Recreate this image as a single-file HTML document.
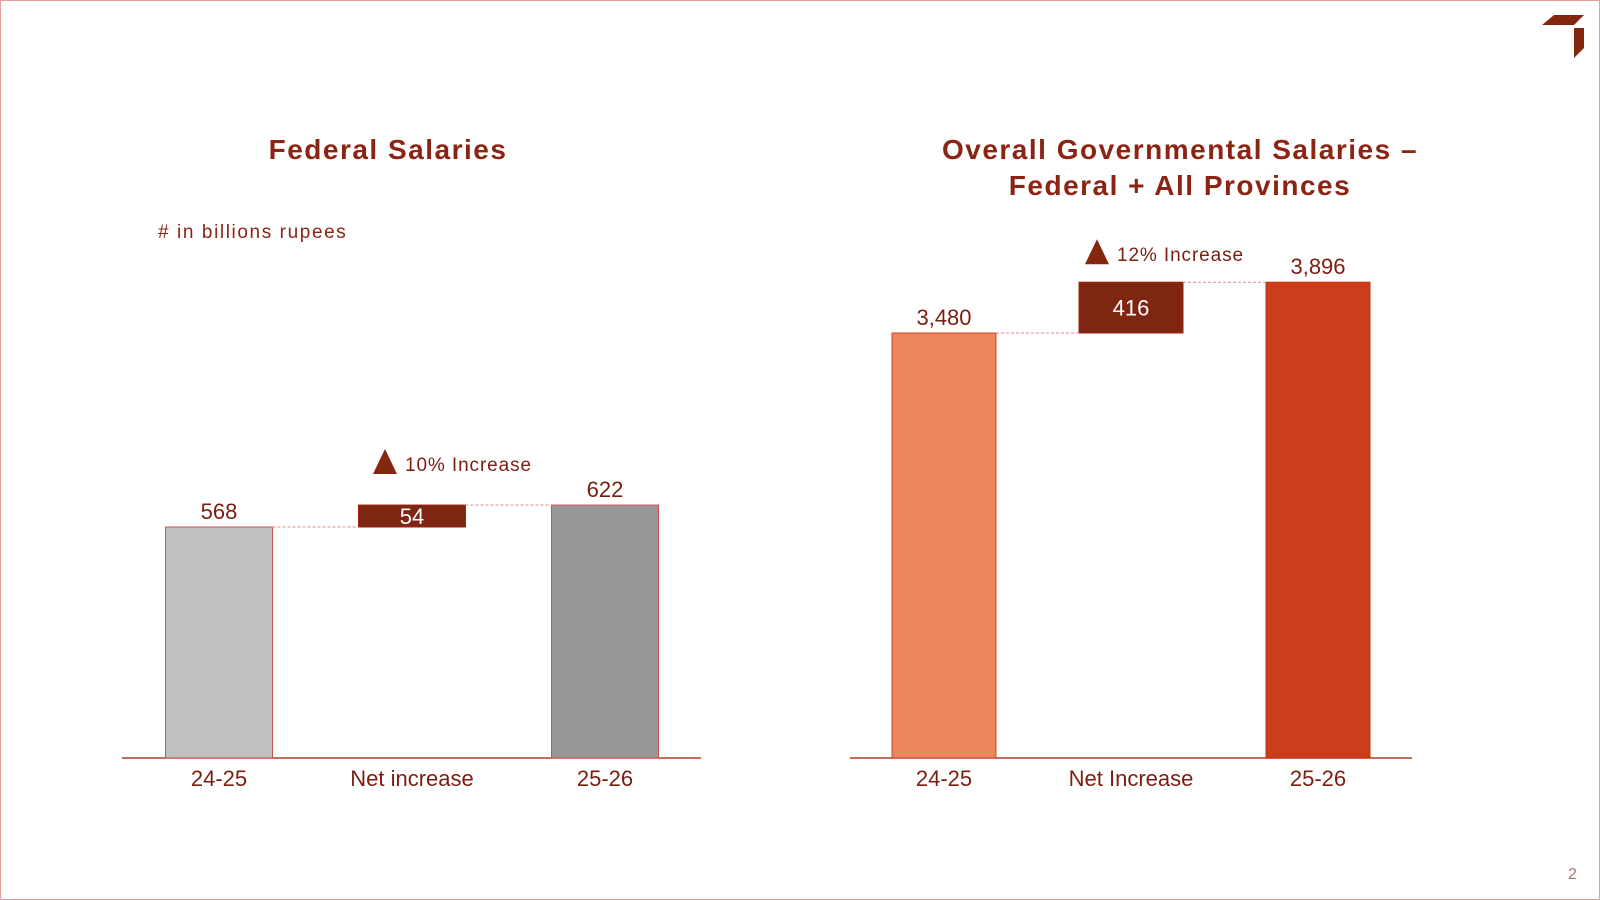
<!DOCTYPE html>
<html><head><meta charset="utf-8"><style>
html,body{margin:0;padding:0;background:#fff}
svg{display:block}
text{font-family:"Liberation Sans",sans-serif}
</style></head><body>
<svg id="s" width="1600" height="900" viewBox="0 0 1600 900">
<rect x="0.5" y="0.5" width="1599" height="899" fill="#fff" stroke="#e0a0a0"/>
<g>
<polygon points="1554,15 1584,15 1574,25 1542,25" fill="#84270f"/>
<polygon points="1574,28 1584,28 1584,48 1574,58" fill="#84270f"/>
</g>
<text x="388" y="159" text-anchor="middle" font-size="28" font-weight="bold" fill="#8b2413" letter-spacing="1.5">Federal Salaries</text>
<text x="158" y="238" font-size="19" fill="#8b2413" letter-spacing="1.6"># in billions rupees</text>
<text x="1180" y="159" text-anchor="middle" font-size="28" font-weight="bold" fill="#8b2413" letter-spacing="1.5">Overall Governmental Salaries –</text>
<text x="1180" y="195" text-anchor="middle" font-size="28" font-weight="bold" fill="#8b2413" letter-spacing="1.5">Federal + All Provinces</text>
<g id="left"></g><g id="right"></g>
</svg>
<script>
const leftCategories=["24-25","Net increase","25-26"];
const leftValues=[568,54,622];
const leftLabels=["568","54","622"];
const leftPct="10% Increase";
const rightCategories=["24-25","Net Increase","25-26"];
const rightValues=[3480,416,3896];
const rightLabels=["3,480","416","3,896"];
const rightPct="12% Increase";
const NS="http://www.w3.org/2000/svg";
function mk(p,t,a){const e=document.createElementNS(NS,t);for(const k in a)e.setAttribute(k,a[k]);p.appendChild(e);return e;}
function draw(g,cfg,cats,vals,labels,pct){
  const base=758;
  const y=v=>base-v*cfg.scale;
  const cx=i=>cfg.x0+i*cfg.step;
  const ax=mk(g,'line',{x1:cfg.ax1,x2:cfg.ax2,y1:base,y2:base,stroke:'#b23a2a','stroke-width':1.5});
  
  
  const start=vals[0], end=start+vals[1];
  const tops=[y(start),y(end),y(end)];
  const bottoms=[base,y(start),base];
  for(let i=0;i<3;i++){
    const x=cx(i)-cfg.w/2;
    const r=mk(g,'rect',{x:x,y:tops[i],width:cfg.w,height:bottoms[i]-tops[i],fill:cfg.colors[i],stroke:cfg.strokes[i],'stroke-width':1});
    
    
    const t=mk(g,'text',{x:cx(i),'text-anchor':'middle','font-size':22,fill:i==1?'#fff':'#7a1e10'});
    if(i==1){t.setAttribute('y',(tops[i]+bottoms[i])/2+8);}else{t.setAttribute('y',tops[i]-8);}
    t.textContent=labels[i];
    
    
    const c=mk(g,'text',{x:cx(i),y:786,'text-anchor':'middle','font-size':22,fill:'#7a1e10'});
    c.textContent=cats[i];
    
    
  }
  const d1=mk(g,'line',{x1:cx(0)+cfg.w/2,x2:cx(1)-cfg.w/2,y1:y(start),y2:y(start),stroke:'#e08a8a','stroke-dasharray':'3,2'});
  
  
  const d2=mk(g,'line',{x1:cx(1)+cfg.w/2,x2:cx(2)-cfg.w/2,y1:y(end),y2:y(end),stroke:'#e08a8a','stroke-dasharray':'3,2'});
  
  
  const ty=y(end)-cfg.triOff;
  const tx=cfg.triX;
  const tri=mk(g,'polygon',{points:`${tx-12},${ty} ${tx+12},${ty} ${tx},${ty-25}`,fill:'#84270f'});
  
  
  const pt=mk(g,'text',{x:tx+20,y:ty-3,'font-size':19,fill:'#7a1e10','letter-spacing':'0.9'});
  pt.textContent=pct;
  
  
}
draw(document.getElementById('left'),{scale:231/568,x0:219,step:193,w:107,ax1:122,ax2:701,
  colors:['#c0c0c0','#7f2612','#979797'],strokes:['#d05050','#a02010','#d05050'],triOff:31,triX:385},
  leftCategories,leftValues,leftLabels,leftPct);
draw(document.getElementById('right'),{scale:425/3480,x0:944,step:187,w:104,ax1:850,ax2:1412,
  colors:['#ec865c','#7f2612','#cc3d1c'],strokes:['#d04030','#a02010','#c03010'],triOff:18,triX:1097},
  rightCategories,rightValues,rightLabels,rightPct);
</script>
<div style="position:absolute;left:1568px;top:866px;font:16px 'Liberation Sans',sans-serif;color:#b07070">2</div>
</body></html>
